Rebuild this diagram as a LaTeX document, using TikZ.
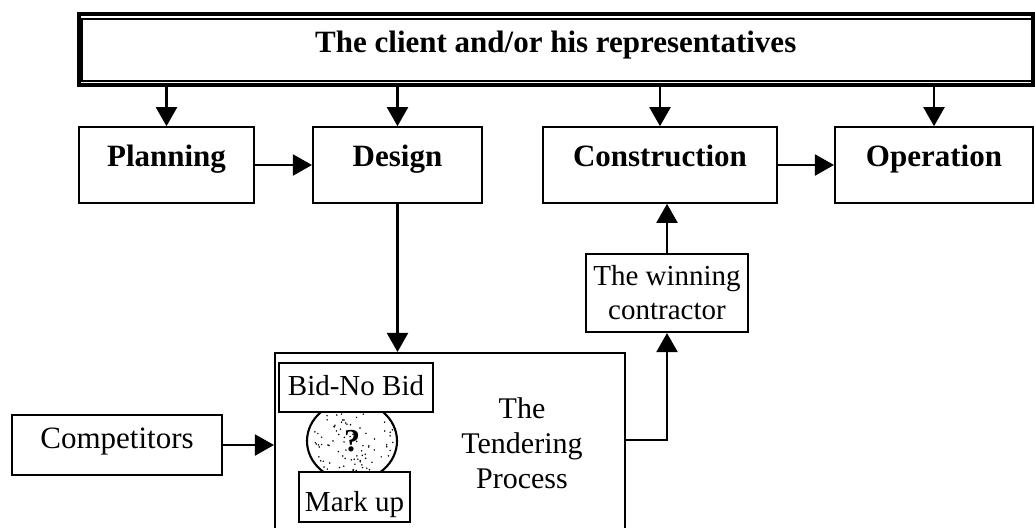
\documentclass[tikz,border=0pt]{standalone}
\usepackage{fontspec}
\setmainfont{Liberation Serif}
\usetikzlibrary{arrows.meta,shapes.geometric}

\begin{document}
\begin{tikzpicture}[x=1pt,y=-1pt,
  box/.style={draw,line width=2.1pt,fill=white,inner sep=0pt,align=center},
  stage/.style={box,font=\fontsize{31}{36}\selectfont\bfseries,
    minimum height=75.5pt,text height=20pt,text depth=18pt},
  plain/.style={box,font=\fontsize{30}{34}\selectfont},
  small/.style={box,font=\fontsize{29}{34}\selectfont},
  flow/.style={-{Triangle[length=19pt,width=21pt]},line width=2.1pt},
]
\useasboundingbox (0,0) rectangle (1035,527);
\clip (0,0) rectangle (1035,527);

% client banner with a double frame
\node[box,line width=4pt,minimum width=954.5pt,minimum height=70.5pt,
  font=\fontsize{31}{36}\selectfont\bfseries,text height=22pt,text depth=16pt]
  (client) at (555.75,49.75) {The client and/or his representatives};
\draw[line width=2.1pt] ([xshift=5pt,yshift=-6.5pt]client.north west)
  rectangle ([xshift=-2.5pt,yshift=6pt]client.south east);

% project stages
\node[stage,minimum width=175pt] (planning) at (166.5,165) {Planning};
\node[stage,minimum width=169pt] (design) at (397.5,165) {Design};
\node[stage,minimum width=234pt] (construction) at (660,165) {Construction};
\node[stage,minimum width=198pt] (operation) at (934,165) {Operation};

% tendering
\node[box,minimum width=350pt,minimum height=200pt] (tender) at (450,453) {};
\node[font=\fontsize{30}{35}\selectfont,align=center,inner sep=0pt]
  (tenderlabel) at (522,443) {The\\Tendering\\Process};

\node[plain,minimum width=210pt,minimum height=60pt,text height=22pt,text depth=16pt,
  font=\fontsize{31}{36}\selectfont] (competitors) at (117,445) {Competitors};
\node[small,minimum width=162pt,minimum height=78pt] (winning) at (667,293)
  {The winning\\contractor};

% bid decision: stippled disc between the two choices
\begin{scope}
  \clip (352,441) ellipse [x radius=45, y radius=40];
  \pgfmathsetseed{11}
  \foreach \i in {1,...,95}{
    \pgfmathsetmacro\rr{sqrt(rnd)*0.95}
    \pgfmathsetmacro\aa{360*rnd}
    \fill ({352+45*\rr*cos(\aa)},{441+40*\rr*sin(\aa)}) circle (0.85pt);
  }
\end{scope}
\node[draw,ellipse,line width=2.1pt,minimum width=90pt,minimum height=80pt,inner sep=0pt,
  font=\fontsize{32}{36}\selectfont\bfseries] (decision) at (352,441) {?};
\node[small,minimum width=154pt,minimum height=49pt,text height=22pt,text depth=7pt]
  (bid) at (356,387.5) {Bid-No Bid};
\node[small,minimum width=111pt,minimum height=50pt,text height=28pt,text depth=0pt]
  (markup) at (354.5,497) {Mark up};

% connectors
\foreach \s in {planning,design,construction,operation}
  \draw[flow] (client.south -| \s.north) -- (\s.north);
\draw[flow] (planning) -- (design);
\draw[flow] (construction) -- (operation);
\draw[flow] (design.south) -- (design.south |- tender.north);
\draw[flow] (competitors) -- (competitors -| tender.west);
\draw[flow] ([yshift=13pt]tender.east) -| (winning.south);
\draw[flow] (winning.north) -- (winning.north |- construction.south);
\end{tikzpicture}
\end{document}
